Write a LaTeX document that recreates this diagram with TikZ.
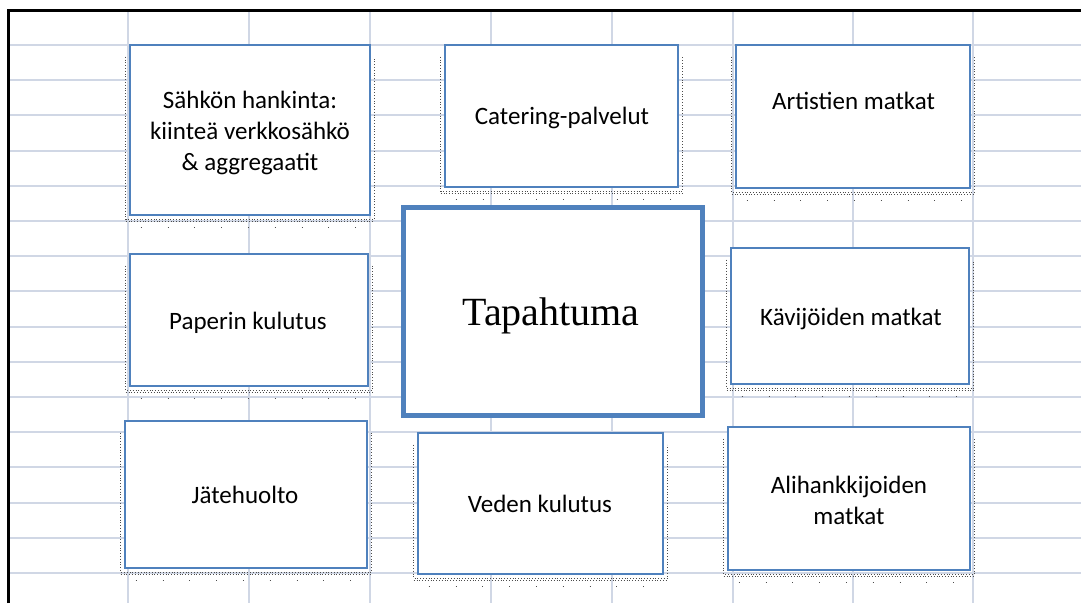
\documentclass[tikz,border=0pt]{standalone}
\usepackage{fontspec}
\setmainfont{Carlito}
\newfontfamily\titlefont{Liberation Serif}
\definecolor{boxblue}{HTML}{4F81BD}
\definecolor{gridc}{HTML}{D0D7E5}
\newcommand\boxshade[1]{%
  \draw[shdense] ([shift={(-3,13)}]#1.north west) -- ([shift={(-3,3)}]#1.south west) -- ([shift={(3,3)}]#1.south east) -- ([shift={(3,13)}]#1.north east);
  \draw[shdense] ([shift={(-3,5)}]#1.south west) -- ([shift={(3,5)}]#1.south east);
  \draw[shsparse] ([shift={(12,11)}]#1.south west) -- ([shift={(3,11)}]#1.south east);}
\begin{document}
\begin{tikzpicture}[x=1pt,y=-1pt,
  box/.style={draw=boxblue, line width=2.6pt, fill=white, rectangle, inner sep=0pt},
  bigbox/.style={box, line width=5pt},
  lbl/.style={font=\fontsize{25}{31}\selectfont, inner sep=0pt, align=center, text=black},
  titlelbl/.style={font=\titlefont\fontsize{40}{44}\selectfont, inner sep=0pt, text=black},
  gridline/.style={draw=gridc, line width=2pt},
  shdense/.style={draw=black!70, line width=0.8pt, dash pattern=on 0.8pt off 2pt},
  shsparse/.style={draw=black!70, line width=0.8pt, dash pattern=on 0.8pt off 26pt}]
\useasboundingbox[fill=white] (0,0) rectangle (1081,603);
% spreadsheet grid
\foreach \k in {0,...,15}
  \draw[gridline] (8,{45+35.2*\k}) -- (1081,{45+35.2*\k});
\foreach \x in {128,249,370,491,612,733,853,973}
  \draw[gridline] (\x,10) -- (\x,603);
% sheet border
\draw[line width=3pt] (8,603) -- (8,10) -- (1081,10);
% boxes
\node[box, minimum width=240pt, minimum height=170pt] (b1) at (250,130) {};
\node[box, minimum width=233pt, minimum height=142pt] (b2) at (561.5,116) {};
\node[box, minimum width=234pt, minimum height=143pt] (b3) at (853,116.5) {};
\node[box, minimum width=238pt, minimum height=132pt] (b4) at (249,320) {};
\node[bigbox, minimum width=299pt, minimum height=208pt] (b5) at (552.5,311) {};
\node[box, minimum width=238pt, minimum height=136pt] (b6) at (850,316) {};
\node[box, minimum width=242pt, minimum height=147pt] (b7) at (246,494.5) {};
\node[box, minimum width=245pt, minimum height=141pt] (b8) at (540.5,503.5) {};
\node[box, minimum width=242pt, minimum height=143pt] (b9) at (849,498.5) {};
% shadows
\boxshade{b1}\boxshade{b2}\boxshade{b3}\boxshade{b4}\boxshade{b6}\boxshade{b7}\boxshade{b8}\boxshade{b9}
% labels
\node[lbl] (t1) at (250,133) {Sähkön hankinta:\\kiinteä verkkosähkö\\\& aggregaatit};
\node[lbl, anchor=base] (t2) at (562,124) {Catering-palvelut};
\node[lbl, anchor=base] (t3) at (853.5,109) {Artistien matkat};
\node[lbl, anchor=base] (t4) at (248,329) {Paperin kulutus};
\node[titlelbl, anchor=base] (t5) at (551,325) {Tapahtuma};
\node[lbl, anchor=base] (t6) at (851,325) {Kävijöiden matkat};
\node[lbl, anchor=base] (t7) at (245,503) {Jätehuolto};
\node[lbl, anchor=base] (t8) at (540,512) {Veden kulutus};
\node[lbl] (t9) at (849,500) {Alihankkijoiden\\matkat};
\end{tikzpicture}
\end{document}
